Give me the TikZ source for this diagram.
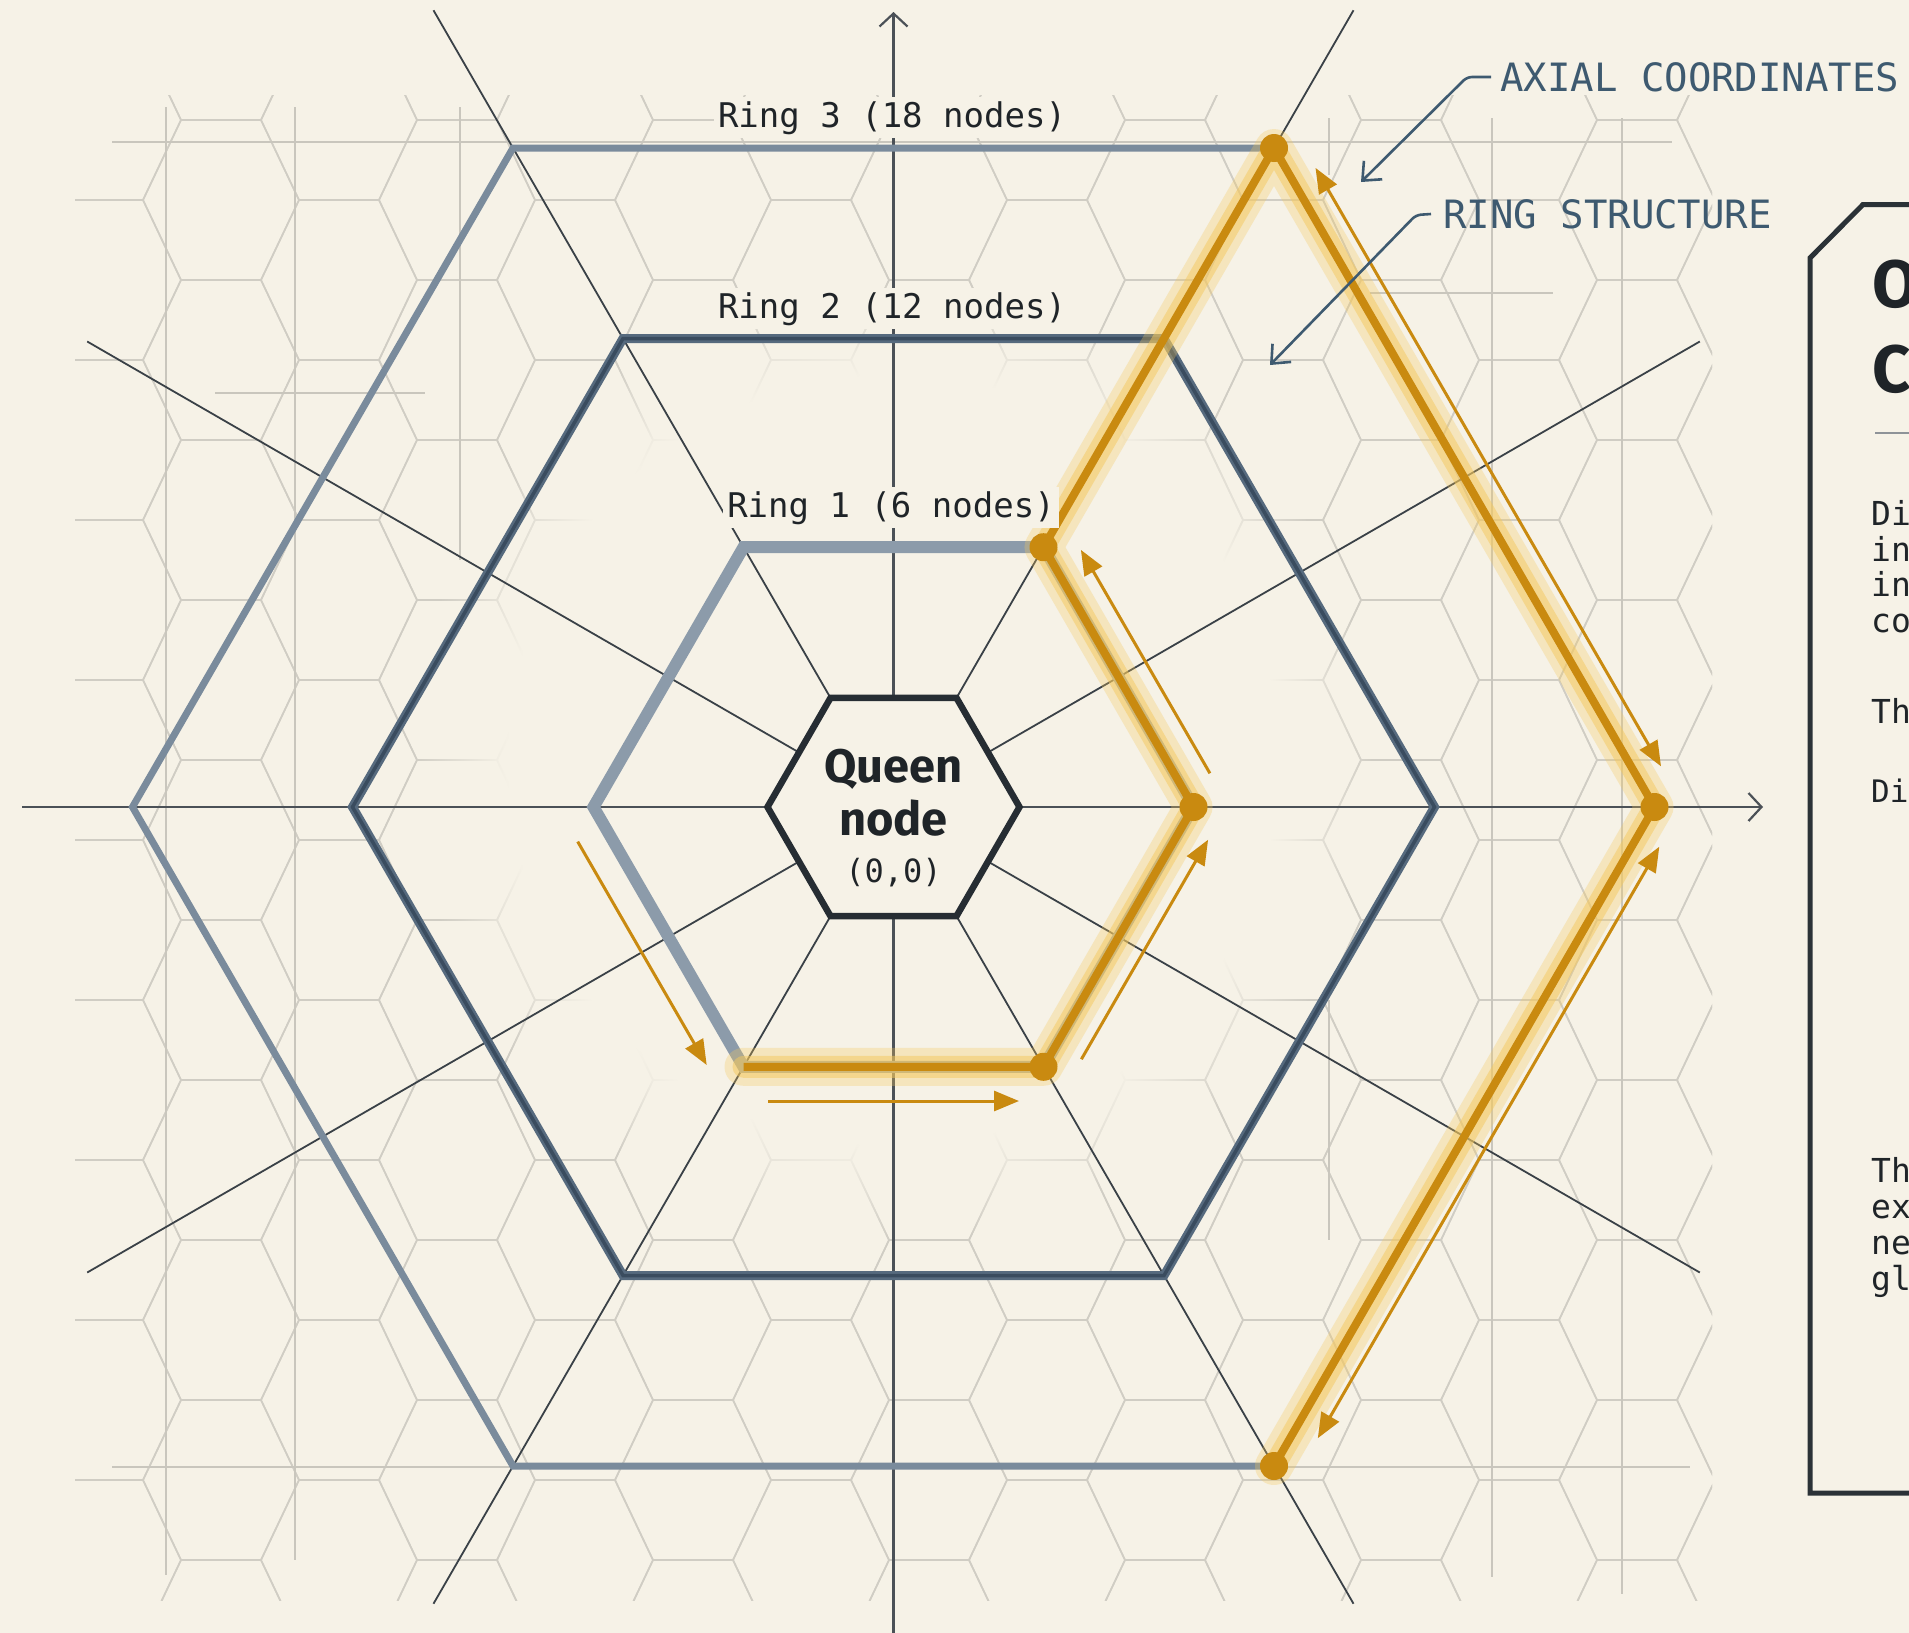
\documentclass[tikz,border=0pt]{standalone}
\usepackage{fontspec}
\setmainfont{Fira Sans}
\newfontfamily\monof{DejaVu Sans Mono}
\usetikzlibrary{arrows.meta,fadings,calc}
\definecolor{bgc}{HTML}{F6F2E7}
\definecolor{gridc}{HTML}{D0CDC4}
\definecolor{guidec}{HTML}{C9C6BD}
\definecolor{axisc}{HTML}{4B5157}
\definecolor{radc}{HTML}{3A4147}
\definecolor{ringa}{HTML}{8C9BAA}
\definecolor{ringb}{HTML}{566A7E}
\definecolor{ringbcore}{HTML}{3A4C5F}
\definecolor{ringc}{HTML}{7A8B9C}
\definecolor{queenc}{HTML}{262D33}
\definecolor{orangec}{HTML}{C98A10}
\definecolor{glowc}{HTML}{F4C85E}
\definecolor{annc}{HTML}{3E5A70}
\definecolor{panelc}{HTML}{2B3237}
\definecolor{textc}{HTML}{1F2428}
\definecolor{rulec}{HTML}{8E9398}
\tikzset{
  gridline/.style={draw=gridc, line width=1.6pt},
  guide/.style={draw=guidec, line width=2.2pt},
  axisline/.style={draw=axisc, line width=2.2pt},
  radline/.style={draw=radc, line width=1.8pt},
  ringone/.style={draw=ringa, line width=12pt, line join=miter},
  ringtwo/.style={draw=ringb, line width=9pt, line join=miter},
  ringtwocore/.style={draw=ringbcore, line width=3.5pt, line join=miter},
  ringthree/.style={draw=ringc, line width=7pt, line join=miter},
  queenhex/.style={draw=queenc, fill=bgc, line width=6.5pt, line join=miter},
  glowwide/.style={draw=glowc, line width=38pt, opacity=0.3, line join=round, line cap=round},
  glowmid/.style={draw=glowc, line width=22pt, opacity=0.5, line join=round, line cap=round},
  pathcore/.style={draw=orangec, line width=8pt, line join=round},
  dotc/.style={fill=orangec},
  thinarr/.style={draw=orangec, line width=3pt, -{Triangle[length=25pt,width=20pt]}},
  thinarrboth/.style={draw=orangec, line width=3pt, {Triangle[length=25pt,width=20pt]}-{Triangle[length=25pt,width=20pt]}},
  annarrow/.style={draw=annc, line width=2.6pt, rounded corners=5pt, -{Straight Barb[length=15pt,width=26pt,line width=2.6pt]}},
  anntext/.style={text=annc, font=\monof\fontsize{39}{44}\selectfont, inner sep=0pt},
  ringlabel/.style={text=textc, fill=bgc, font=\monof\fontsize{34}{40}\selectfont, inner sep=4pt},
  queentext/.style={text=textc, font=\bfseries\fontsize{47}{52}\selectfont, inner sep=0pt},
  coordtext/.style={text=textc, font=\monof\fontsize{32}{38}\selectfont, inner sep=0pt},
  titletext/.style={text=textc, font=\bfseries\fontsize{67}{72}\selectfont, inner sep=0pt},
  bodytext/.style={text=textc, font=\monof\fontsize{33}{38}\selectfont, inner sep=0pt},
  smalltext/.style={text=textc, font=\monof\fontsize{31}{36}\selectfont, inner sep=0pt},
  panelbox/.style={draw=panelc, fill=bgc, line width=5pt, line join=miter}
}
\begin{document}
\begin{tikzpicture}[x=1pt,y=-1pt]
\useasboundingbox (0,0) rectangle (1909,1633);
\clip (0,0) rectangle (1909,1633);
\fill[bgc] (0,0) rectangle (1909,1633);
% background hex grid
\begin{scope}
\clip (75,95) rectangle (1712,1600);
\foreach \i in {-10,...,6}{
  \foreach \j in {-8,...,3}{
    \pgfmathsetmacro\cx{1165+118*\i}
    \pgfmathsetmacro\cy{1160+160*\j+80*Mod(\i,2)}
    \draw[gridline] (\cx-78,\cy) -- (\cx-40,\cy-80) -- (\cx+40,\cy-80) -- (\cx+78,\cy) -- (\cx+40,\cy+80) -- (\cx-40,\cy+80) -- cycle;
  }
}
\end{scope}
\fill[bgc, path fading=circle with fuzzy edge 20 percent] (893,760) circle (480);
% guide lines
\draw[guide] (112,142) -- (1672,142);
\draw[guide] (112,1467) -- (1690,1467);
\draw[guide] (215,393) -- (425,393);
\draw[guide] (1370,293) -- (1553,293);
\draw[guide] (166,107) -- (166,1575);
\draw[guide] (295,107) -- (295,1560);
\draw[guide] (460,107) -- (460,560);
\draw[guide] (1329,118) -- (1329,175);
\draw[guide] (1329,1000) -- (1329,1240);
\draw[guide] (1492,118) -- (1492,1577);
\draw[guide] (1622,118) -- (1622,1594);
% key points
\coordinate (C) at (893.5,807);
\coordinate (axL) at (22,807);
\coordinate (axR) at (1763,807);
\coordinate (axB) at (893.5,1633);
\coordinate (axT) at (893.5,12);
\coordinate (ra1) at (433.5,10.3);
\coordinate (ra2) at (1353.5,1603.7);
\coordinate (rb1) at (1353.5,10.3);
\coordinate (rb2) at (433.5,1603.7);
\coordinate (rc1) at (87.2,341.5);
\coordinate (rc2) at (1699.8,1272.5);
\coordinate (rd1) at (87.2,1272.5);
\coordinate (rd2) at (1699.8,341.5);
% axes and radial lines
\draw[radline] (ra1) -- (ra2);
\draw[radline] (rb1) -- (rb2);
\draw[radline] (rc1) -- (rc2);
\draw[radline] (rd1) -- (rd2);
\draw[axisline, -{Straight Barb[length=13pt,width=28pt,line width=2.2pt]}] (axL) -- (axR);
\draw[axisline, -{Straight Barb[length=13pt,width=28pt,line width=2.2pt]}] (axB) -- (axT);
% ring vertices
\coordinate (L3) at (132.5,807);  \coordinate (TL3) at (513,148);
\coordinate (P4) at (1274,148);   \coordinate (P5) at (1654.5,807);
\coordinate (P6) at (1274,1466);  \coordinate (BL3) at (513,1466);
\coordinate (L2) at (352.5,807);  \coordinate (TL2) at (623,338.5);
\coordinate (TR2) at (1164,338.5); \coordinate (R2) at (1434.5,807);
\coordinate (BR2) at (1164,1275.5); \coordinate (BL2) at (623,1275.5);
\coordinate (L1) at (593.5,807);  \coordinate (TL1) at (743.5,547.2);
\coordinate (P3) at (1043.5,547.2); \coordinate (P2) at (1193.5,807);
\coordinate (P1) at (1043.5,1066.8); \coordinate (P0) at (743.5,1066.8);
% rings
\draw[ringthree] (L3) -- (TL3) -- (P4) -- (P5) -- (P6) -- (BL3) -- cycle;
\draw[ringtwo] (L2) -- (TL2) -- (TR2) -- (R2) -- (BR2) -- (BL2) -- cycle;
\draw[ringtwocore] (L2) -- (TL2) -- (TR2) -- (R2) -- (BR2) -- (BL2) -- cycle;
\draw[ringone] (L1) -- (TL1) -- (P3) -- (P2) -- (P1) -- (P0) -- cycle;
% queen node
\draw[queenhex] (767.5,807) -- (830.5,697.9) -- (956.5,697.9) -- (1019.5,807) -- (956.5,916.1) -- (830.5,916.1) -- cycle;
\node[queentext, anchor=base] (qa) at (893.5,782) {Queen};
\node[queentext, anchor=base] (qb) at (893.5,835) {node};
\node[coordtext, anchor=base] (qc) at (893.5,882) {(0,0)};
% orange traversal path
\draw[glowwide] (P0) -- (P1) -- (P2) -- (P3) -- (P4) -- (P5) -- (P6);
\draw[glowmid] (P0) -- (P1) -- (P2) -- (P3) -- (P4) -- (P5) -- (P6);
\draw[pathcore] (P0) -- (P1) -- (P2) -- (P3) -- (P4) -- (P5) -- (P6);
\foreach \p in {P1,P2,P3,P4,P5,P6}{ \fill[dotc] (\p) circle (14); }
% thin direction arrows
\coordinate (a1s) at (577.7,841.6);  \coordinate (a1e) at (706.7,1065);
\coordinate (a2s) at (768,1101);     \coordinate (a2e) at (1019,1101);
\coordinate (a3s) at (1081.4,1059.2); \coordinate (a3e) at (1208.1,839.7);
\coordinate (a4s) at (1209.9,773.3); \coordinate (a4e) at (1080.9,549.9);
\coordinate (a5s) at (1315.5,167.9); \coordinate (a5e) at (1661,766.3);
\coordinate (a6s) at (1659.3,846.7); \coordinate (a6e) at (1317.8,1438.2);
\draw[thinarr] (a1s) -- (a1e);
\draw[thinarr] (a2s) -- (a2e);
\draw[thinarr] (a3s) -- (a3e);
\draw[thinarr] (a4s) -- (a4e);
\draw[thinarrboth] (a5s) -- (a5e);
\draw[thinarrboth] (a6s) -- (a6e);
% ring labels
\node[ringlabel, anchor=base] (lab3) at (892,127) {Ring 3 (18 nodes)};
\node[ringlabel, anchor=base] (lab2) at (892,318) {Ring 2 (12 nodes)};
\node[ringlabel, anchor=base] (lab1) at (891,517) {Ring 1 (6 nodes)};
% annotations
\node[anntext, anchor=west] (axl) at (1500,77) {AXIAL COORDINATES};
\coordinate (axbend) at (1467,77);
\coordinate (axtip) at (1361,182);
\draw[annarrow] ([xshift=-9pt]axl.west) -- (axbend) -- (axtip);
\node[anntext, anchor=west] (rsl) at (1443,214) {RING STRUCTURE};
\coordinate (rsbend) at (1416,215);
\coordinate (rstip) at (1270,365);
\draw[annarrow] ([xshift=-12pt]rsl.west) -- (rsbend) -- (rstip);
% right panel
\draw[panelbox] (1960,1493) -- (1810,1493) -- (1810,258) -- (1863,204.5) -- (1960,204.5);
\node[titletext, anchor=base west] (t1) at (1872,307) {O};
\node[titletext, anchor=base west] (t2) at (1872,392) {C};
\draw[draw=rulec, line width=2pt] (1875,433) -- (1920,433);
\node[bodytext, anchor=base west] (b1) at (1871,525.5) {Di};
\node[bodytext, anchor=base west] (b2) at (1871,561) {in};
\node[bodytext, anchor=base west] (b3) at (1871,596.5) {in};
\node[bodytext, anchor=base west] (b4) at (1871,632) {co};
\node[bodytext, anchor=base west] (b5) at (1871,723) {Th};
\node[smalltext, anchor=base west] (b6) at (1871,802) {Di};
\node[bodytext, anchor=base west] (b7) at (1871,1182) {Th};
\node[bodytext, anchor=base west] (b8) at (1871,1218) {ex};
\node[bodytext, anchor=base west] (b9) at (1871,1254) {ne};
\node[bodytext, anchor=base west] (b10) at (1871,1290) {gl};
\end{tikzpicture}
\end{document}
